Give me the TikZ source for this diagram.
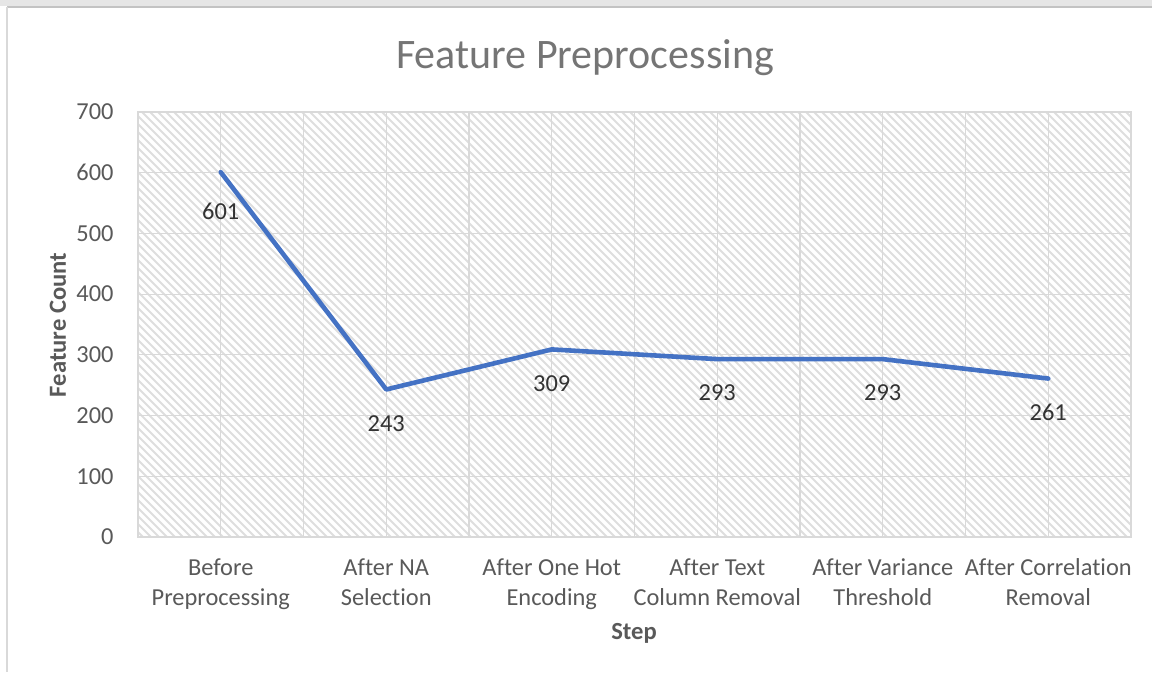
\documentclass[tikz,border=0pt]{standalone}
\usepackage{fontspec}
\setmainfont{Carlito}[Ligatures=NoCommon]
\usetikzlibrary{calc}
\definecolor{txt}{HTML}{595959}
\definecolor{ttl}{HTML}{757575}
\definecolor{grid}{HTML}{D9D9D9}
\definecolor{hatch}{HTML}{DEDEDE}
\definecolor{series}{HTML}{4472C4}
\definecolor{band}{HTML}{E6E6E6}
\tikzset{
  ticklbl/.style={text=txt,font=\fontsize{12.2}{15}\selectfont,inner sep=0pt},
  catlbl/.style={text=txt,font=\fontsize{12.2}{15}\selectfont,align=center,inner sep=0pt},
  datalbl/.style={text=black!80,font=\fontsize{12.2}{15}\selectfont,inner sep=0pt},
  axtitle/.style={text=txt,font=\bfseries\fontsize{12.3}{15}\selectfont,inner sep=0pt},
  gridline/.style={draw=grid,line width=0.6pt},
  seriesline/.style={draw=series,line width=2.3pt,line join=round,line cap=round}
}
\begin{document}
\begin{tikzpicture}[x=0.5pt,y=-0.5pt]
\useasboundingbox (0,0) rectangle (1152,675);
% window frame
\fill[band] (0,0) rectangle (1152,6);
\draw[draw=grid!90!black,line width=0.9pt] (7,7) -- (1152,7);
\draw[draw=grid,line width=1.1pt] (7,7) -- (7,672);
% plot area hatching
\begin{scope}
  \clip (138,112) rectangle (1131,537);
  \foreach \x in {-290,-282,...,1131}
    \draw[hatch,line width=0.9pt] (\x,112) -- ++(425,425);
\end{scope}
% gridlines
\foreach \v in {100,200,...,700}
  \draw[gridline] (138,{537-0.6071*\v}) -- (1131,{537-0.6071*\v});
\foreach \k in {1,...,11}
  \draw[gridline] ({138+82.75*\k},112) -- ({138+82.75*\k},537);
\draw[gridline] (138,112) rectangle (1131,537);
% y tick labels
\foreach \v in {0,100,...,700}
  \node[ticklbl,anchor=east] (y\v) at (114,{537-0.6071*\v}) {\v};
% category labels
\node[catlbl] (c1) at (220.75,584) {Before\strut\\Preprocessing\strut};
\node[catlbl] (c2) at (386.25,584) {After NA\strut\\Selection\strut};
\node[catlbl] (c3) at (551.75,584) {After One Hot\strut\\Encoding\strut};
\node[catlbl] (c4) at (717.25,584) {After Text\strut\\Column Removal\strut};
\node[catlbl] (c5) at (882.75,584) {After Variance\strut\\Threshold\strut};
\node[catlbl] (c6) at (1048.25,584) {After Correlation\strut\\Removal\strut};
% axis titles
\node[axtitle] (xt) at (634,633) {Step};
\node[axtitle,rotate=90] (yt) at (58,325) {Feature Count};
% chart title
\node[text=ttl,font=\fontsize{21}{24}\selectfont,inner sep=0pt] (title) at (585,58) {Feature Preprocessing};
% data series
\coordinate (p1) at (220.75,{537-0.6071*601});
\coordinate (p2) at (386.25,{537-0.6071*243});
\coordinate (p3) at (551.75,{537-0.6071*309});
\coordinate (p4) at (717.25,{537-0.6071*293});
\coordinate (p5) at (882.75,{537-0.6071*293});
\coordinate (p6) at (1048.25,{537-0.6071*261});
\draw[seriesline] (p1) -- (p2) -- (p3) -- (p4) -- (p5) -- (p6);
% data labels
\node[datalbl] (l1) at ($(p1)+(0,39)$) {601};
\node[datalbl] (l2) at ($(p2)+(0,34)$) {243};
\node[datalbl] (l3) at ($(p3)+(0,34)$) {309};
\node[datalbl] (l4) at ($(p4)+(0,34)$) {293};
\node[datalbl] (l5) at ($(p5)+(0,34)$) {293};
\node[datalbl] (l6) at ($(p6)+(0,34)$) {261};
\end{tikzpicture}
\end{document}
